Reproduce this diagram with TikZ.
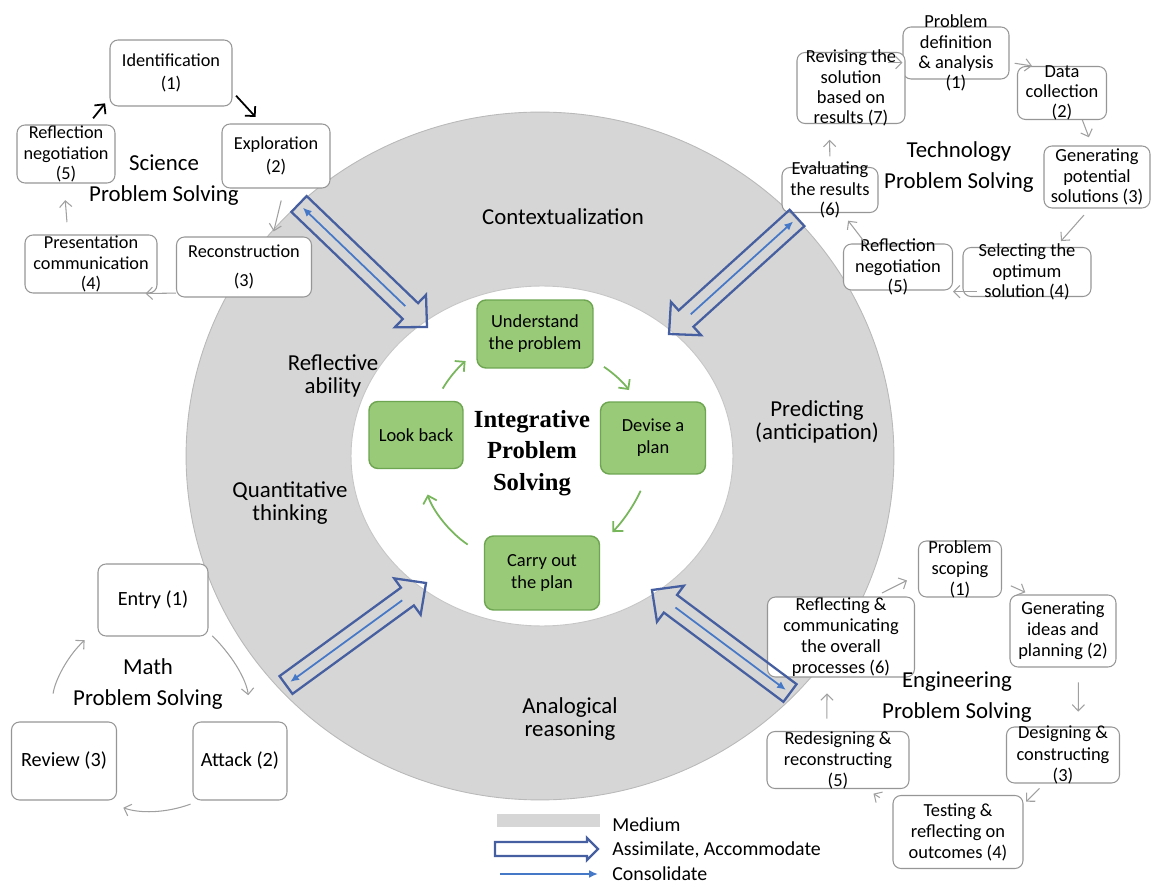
\documentclass[tikz,border=0pt]{standalone}
\usepackage{fontspec}
\setmainfont{Carlito}
\newfontfamily\ipsfont{Liberation Serif}
\usetikzlibrary{arrows.meta, calc, positioning}
\definecolor{ringgray}{RGB}{214,214,214}
\definecolor{boxline}{RGB}{150,150,150}
\definecolor{gfill}{RGB}{152,202,120}
\definecolor{gline}{RGB}{110,165,80}
\definecolor{garrowc}{RGB}{120,182,92}
\definecolor{assimblue}{RGB}{70,95,160}
\definecolor{consblue}{RGB}{70,120,200}
\definecolor{cycgray}{RGB}{160,160,160}
\tikzstyle{cbox} = [rectangle, rounded corners=0.16cm, draw=boxline, line width=0.6pt, fill=white, align=center, inner xsep=2pt, inner ysep=0pt, text=black]
\tikzstyle{sbox} = [cbox, font=\fontsize{10.4}{11.5}\selectfont]
\tikzstyle{tbox} = [cbox, font=\fontsize{10.5}{11.5}\selectfont]
\tikzstyle{mbox} = [cbox, font=\fontsize{11.5}{13}\selectfont]
\tikzstyle{ebox} = [cbox, font=\fontsize{10.5}{12}\selectfont]
\tikzstyle{gbox} = [rectangle, rounded corners=0.18cm, draw=gline, line width=0.8pt, fill=gfill, align=center, inner sep=2pt, font=\fontsize{10.5}{12.5}\selectfont]
\tikzstyle{ips} = [align=center, font={\ipsfont\bfseries\fontsize{14}{18}\selectfont}]
\tikzstyle{medlabel} = [align=center, font=\fontsize{13}{12.8}\selectfont]
\tikzstyle{grouptitle} = [align=center, font=\fontsize{13}{17.5}\selectfont]
\tikzstyle{legtext} = [anchor=west, inner sep=0pt, font=\fontsize{11.3}{13}\selectfont]
\tikzstyle{cyc} = [draw=cycgray, line width=0.6pt, -{Straight Barb[length=3.5pt,width=7pt]}]
\tikzstyle{blkarrow} = [draw=black, line width=1pt, -{Straight Barb[length=4pt,width=8pt]}]
\tikzstyle{garrow} = [draw=garrowc, line width=1pt, -{Straight Barb[length=4pt,width=8pt]}]
\tikzstyle{assim} = [draw=assimblue, line width=1.3pt, line join=miter]
\tikzstyle{consol} = [draw=consblue, line width=1pt, -{Latex[length=5pt,width=4.5pt]}]
\tikzstyle{ring} = [draw=gray!55, line width=0.5pt, fill=ringgray]
\tikzstyle{core} = [draw=gray!45, line width=0.5pt, fill=white]
\newcommand{\fatarrow}[5]{%
  \coordinate (#1-neck) at ($(#2)!#5!(#1)$);
  \draw[assim] ($(#1)!#3!90:(#2)$) -- ($(#1-neck)!#3!90:(#2)$) -- ($(#1-neck)!#4!90:(#2)$) -- (#2)
    -- ($(#1-neck)!#4!-90:(#2)$) -- ($(#1-neck)!#3!-90:(#2)$) -- ($(#1)!#3!-90:(#2)$) -- cycle;
}
\begin{document}
\begin{tikzpicture}[x=0.02cm, y=-0.02cm]
\useasboundingbox (0,0) rectangle (1154,885);

\draw[ring] (540,456) ellipse [x radius=7.08cm, y radius=6.88cm];
\draw[core] (542,456) ellipse [x radius=3.82cm, y radius=3.40cm];

\node[medlabel] (context) at (563,217) {Contextualization};
\node[medlabel] (reflective) at (333,376) {Reflective\\ability};
\node[medlabel] (predict) at (817,422) {Predicting\\(anticipation)};
\node[medlabel] (quant) at (290,503) {Quantitative\\thinking};
\node[medlabel] (analog) at (570,719) {Analogical\\reasoning};

\node[ips] (ips) at (532,453) {Integrative\\Problem\\Solving};
\node[gbox, minimum width=2.32cm, minimum height=1.36cm] (under) at (535,334) {Understand\\the problem};
\node[gbox, minimum width=2.10cm, minimum height=1.44cm] (devise) at (653,438) {Devise a\\plan};
\node[gbox, minimum width=2.30cm, minimum height=1.48cm] (carry) at (542,573) {Carry out\\the plan};
\node[gbox, minimum width=1.88cm, minimum height=1.34cm] (look) at (416,435) {Look back};
\draw[garrow, shorten <=8pt, shorten >=8pt] (look.60) to[bend left=10] (under.197);
\draw[garrow, shorten <=7pt, shorten >=8pt] (under.-24) to[bend left=10] (devise.113);
\draw[garrow, shorten <=10pt, shorten >=10pt] (devise.-98) to[bend left=10] (carry.26);
\draw[garrow, shorten <=11pt, shorten >=15pt] (carry.163) to[bend left=20] (look.-83);

\node[sbox, minimum width=2.44cm, minimum height=1.32cm] (s1) at (171,73) {Identification\\[2pt](1)};
\node[sbox, minimum width=2.16cm, minimum height=1.28cm] (s2) at (276,156) {Exploration\\[2pt](2)};
\node[sbox, minimum width=2.70cm, minimum height=1.20cm] (s3) at (244,267) {Reconstruction\\[5pt](3)};
\node[sbox, minimum width=2.64cm, minimum height=1.16cm] (s4) at (91,264) {Presentation\\communication\\(4)};
\node[sbox, minimum width=1.96cm, minimum height=1.16cm] (s5) at (66,154) {Reflection\\negotiation\\(5)};
\node[grouptitle] (sci) at (164,180) {Science\\Problem Solving};
\draw[blkarrow, shorten <=4.5pt, shorten >=4pt] (s5.53) -- (s1.202);
\draw[blkarrow, shorten <=3pt, shorten >=5pt] (s1.-17) -- (s2.114);
\draw[cyc, shorten <=7pt, shorten >=3pt] (s2.-76) -- (s3.47);
\draw[cyc, shorten >=2pt] (s3.201) -- (s4.-30);
\draw[cyc, shorten <=7pt, shorten >=9.5pt] (s4.128) -- (s5.-94);

\node[tbox, minimum width=2.12cm, minimum height=1.04cm, inner ysep=-7.3pt] (t1) at (956,53) {Problem\\definition\\\& analysis\\(1)};
\node[tbox, minimum width=1.78cm, minimum height=1.06cm, inner ysep=-1.3pt] (t2) at (1062,93) {Data\\collection\\(2)};
\node[tbox, minimum width=2.12cm, minimum height=1.24cm] (t3) at (1097,177) {Generating\\potential\\solutions (3)};
\node[tbox, minimum width=2.56cm, minimum height=0.98cm, inner ysep=-2.4pt] (t4) at (1027,272) {Selecting the\\optimum\\solution (4)};
\node[tbox, minimum width=2.18cm, minimum height=0.92cm, inner ysep=-3.3pt] (t5) at (898,267) {Reflection\\negotiation\\(5)};
\node[tbox, minimum width=1.92cm, minimum height=0.90cm, inner ysep=-3.5pt] (t6) at (830,190) {Evaluating\\the results\\(6)};
\node[tbox, minimum width=2.16cm, minimum height=1.42cm, inner ysep=-1.9pt] (t7) at (851,88) {Revising the\\solution\\based on\\results (7)};
\node[grouptitle] (tech) at (959,167) {Technology\\Problem Solving};
\draw[cyc] ([xshift=-10pt]t7.25) -- (t1.west |- t7.25);
\draw[cyc, shorten <=3pt] (t1.-10) -- (t2.138);
\draw[cyc, shorten >=5pt] (t2.-53) -- (t3.99);
\draw[cyc, shorten <=5pt, shorten >=4.5pt] (t3.-103) -- (t4.41);
\draw[cyc] ([xshift=8pt]t4.197) -- (t5.east |- t4.197);
\draw[cyc, shorten >=5.5pt] (t5.144) -- (t6.-62);
\draw[cyc, shorten <=6pt, shorten >=9pt] (t6.north) -- (t7.-121);

\node[mbox, minimum width=2.20cm, minimum height=1.44cm] (m1) at (153,600) {Entry (1)};
\node[mbox, minimum width=1.88cm, minimum height=1.56cm] (m2) at (240,761) {Attack (2)};
\node[mbox, minimum width=2.10cm, minimum height=1.56cm] (m3) at (64,761) {Review (3)};
\node[grouptitle] (math) at (148,684) {Math\\Problem Solving};
\draw[cyc, shorten <=3pt, shorten >=15pt] (m1.-30) to[bend left=20] (m2.75);
\draw[cyc, shorten <=6pt, shorten >=12pt] (m2.-135) to[bend left=20] (m3.-45);
\draw[cyc, shorten <=16pt, shorten >=10pt] (m3.110) to[bend left=20] (m1.207);

\node[ebox, minimum width=1.66cm, minimum height=1.12cm, inner ysep=-0.9pt] (e1) at (960,569) {Problem\\scoping\\(1)};
\node[ebox, minimum width=2.12cm, minimum height=1.44cm] (e2) at (1063,631) {Generating\\ideas and\\planning (2)};
\node[ebox, minimum width=2.26cm, minimum height=1.12cm, inner ysep=-0.9pt] (e3) at (1063,755) {Designing \&\\constructing\\(3)};
\node[ebox, minimum width=2.60cm, minimum height=1.46cm] (e4) at (958,832) {Testing \&\\reflecting on\\outcomes (4)};
\node[ebox, minimum width=2.84cm, minimum height=1.14cm, inner ysep=-0.9pt] (e5) at (838,760) {Redesigning \&\\reconstructing\\(5)};
\node[ebox, minimum width=2.94cm, minimum height=1.60cm] (e6) at (841,637) {Reflecting \&\\communicating\\the overall\\processes (6)};
\node[grouptitle] (eng) at (957,697) {Engineering\\Problem Solving};
\draw[cyc, shorten <=4.5pt, shorten >=7pt] (e6.50) -- (e1.188);
\draw[cyc, shorten <=5.5pt, shorten >=3pt] (e1.-17) -- (e2.132);
\draw[cyc, shorten <=8.5pt, shorten >=8.5pt] (e2.-67) -- (e3.62);
\draw[cyc, shorten <=4pt, shorten >=2pt] (e3.-123) -- (e4.23);
\draw[cyc, shorten <=8.5pt, shorten >=5pt] (e4.158) -- (e5.-46);
\draw[cyc, shorten <=7pt, shorten >=9pt] (e5.111) -- (e6.-109);

\coordinate (ulA) at (299,204); \coordinate (ulB) at (427,327);
\coordinate (urA) at (797,218); \coordinate (urB) at (669,334);
\coordinate (llA) at (286,685); \coordinate (llB) at (426,583);
\coordinate (lrA) at (790,693); \coordinate (lrB) at (652,590);
\fatarrow{ulA}{ulB}{0.22cm}{0.45cm}{0.46cm}
\fatarrow{urA}{urB}{0.22cm}{0.45cm}{0.46cm}
\fatarrow{llA}{llB}{0.22cm}{0.45cm}{0.46cm}
\fatarrow{lrA}{lrB}{0.22cm}{0.45cm}{0.46cm}
\draw[consol] ($(ulB)!0.17!(ulA)$) -- ($(ulA)!0.03!(ulB)$);
\draw[consol] ($(urB)!0.17!(urA)$) -- ($(urA)!0.03!(urB)$);
\draw[consol] ($(llB)!0.17!(llA)$) -- ($(llA)!0.03!(llB)$);
\draw[consol] ($(lrB)!0.17!(lrA)$) -- ($(lrA)!0.03!(lrB)$);

\fill[ringgray] (497,814) rectangle (600,827);
\node[legtext] (legmed) at (612,825) {Medium};
\coordinate (legA) at (495,849); \coordinate (legB) at (598,849);
\fatarrow{legA}{legB}{0.14cm}{0.22cm}{0.22cm}
\node[legtext] (legassim) at (612,850) {Assimilate, Accommodate};
\coordinate (legC) at (500,874);
\node[legtext] (legcons) at (612,874) {Consolidate};
\draw[consol, shorten >=8pt] (legC) -- (legcons.west);
\end{tikzpicture}
\end{document}
